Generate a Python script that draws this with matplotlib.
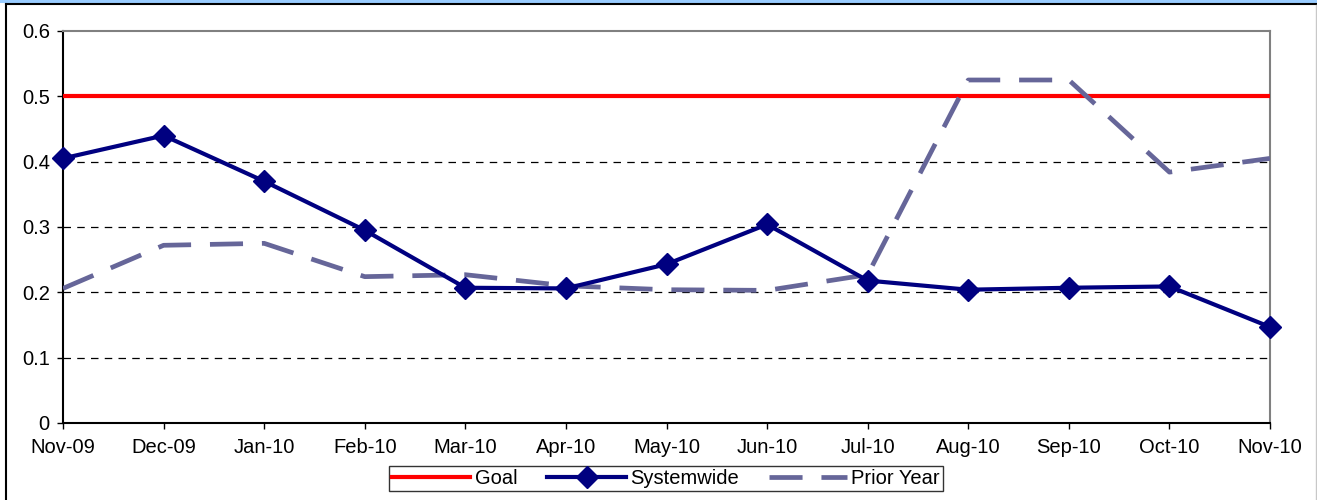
import matplotlib
matplotlib.use("Agg")
from matplotlib import pyplot as plt
from matplotlib.patches import Rectangle
from matplotlib.lines import Line2D

plt.rcParams['font.family'] = ['Liberation Sans', 'DejaVu Sans']

months = ["Nov-09", "Dec-09", "Jan-10", "Feb-10", "Mar-10", "Apr-10", "May-10",
          "Jun-10", "Jul-10", "Aug-10", "Sep-10", "Oct-10", "Nov-10"]
goal = [0.5] * 13
systemwide = [0.405, 0.440, 0.370, 0.295, 0.207, 0.206, 0.243,
              0.304, 0.218, 0.204, 0.207, 0.209, 0.147]
prior_year = [0.206, 0.272, 0.275, 0.224, 0.227, 0.210, 0.204,
              0.203, 0.227, 0.525, 0.525, 0.384, 0.405]
yticks = [0, 0.1, 0.2, 0.3, 0.4, 0.5, 0.6]

W, H = 1317, 500
fig = plt.figure(figsize=(W / 100, H / 100), dpi=100)

# blue band and outer chart border at the top (title is cut off)
fig.patches.append(Rectangle((0, 1 - 3 / H), 1, 3 / H, transform=fig.transFigure,
                             facecolor="#99ccff", edgecolor="none"))
fig.lines.append(Line2D([6 / W, 1], [1 - 4 / H, 1 - 4 / H], transform=fig.transFigure,
                        color="black", linewidth=1.5))
fig.lines.append(Line2D([6 / W, 6 / W], [0, 1 - 4 / H], transform=fig.transFigure,
                        color="black", linewidth=1.5))
fig.lines.append(Line2D([1316 / W, 1316 / W], [0, 1 - 5 / H], transform=fig.transFigure,
                        color="#c8c8c8", linewidth=1))

ax = fig.add_axes([63 / W, 77 / H, 1207 / W, 392 / H])
x = list(range(len(months)))

ax.plot(x, goal, color="#ff0000", linewidth=3, label="Goal", zorder=3)
ax.plot(x, systemwide, color="#000080", linewidth=3, marker="D", markersize=11,
        label="Systemwide", zorder=5, clip_on=False)
ax.plot(x, prior_year, color="#666699", linewidth=3.4, dashes=(7, 4),
        label="Prior Year", zorder=4)

ax.set_xlim(0, 12)
ax.set_ylim(0, 0.6)
ax.set_yticks(yticks)
ax.set_yticklabels(["0", "0.1", "0.2", "0.3", "0.4", "0.5", "0.6"])
ax.set_xticks(x)
ax.set_xticklabels(months)
ax.tick_params(axis="both", labelsize=14.5, length=4.5, direction="out", width=1)
ax.tick_params(axis="y", pad=5)
ax.tick_params(axis="x", pad=6)
for v in yticks[1:6]:
    ax.axhline(v, color="black", linewidth=0.9, dashes=(6, 5), zorder=1)

ax.spines["left"].set_color("black")
ax.spines["bottom"].set_color("black")
ax.spines["top"].set_color("#808080")
ax.spines["right"].set_color("#808080")
for s in ax.spines.values():
    s.set_linewidth(1.5)

leg = fig.legend(loc="center", bbox_to_anchor=(666 / W, 1 - 478.5 / H), ncol=3,
                 fontsize=14.5, frameon=True, fancybox=False, edgecolor="black",
                 handlelength=3.9, columnspacing=1.5, handletextpad=0.2,
                 borderpad=0.15, borderaxespad=0)
leg.get_frame().set_linewidth(1.0)

fig.savefig("out.png", dpi=100)
